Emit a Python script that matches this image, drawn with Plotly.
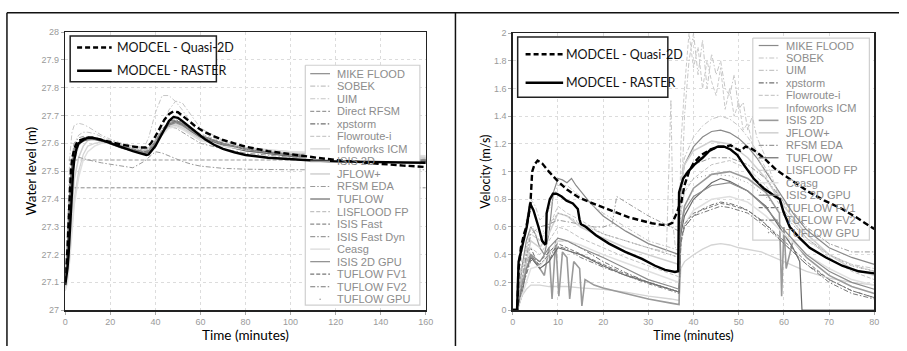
import plotly.graph_objects as go

W, H = 907, 351

# ================= LEFT PANEL: water level (m) =================
T_L = [0, 1, 2, 3, 4, 6, 8, 10, 13, 16, 20, 25, 30, 35, 37, 40, 43, 46, 49, 52, 56, 60, 70, 80, 100, 120, 140, 160]

L_MIKE = [27.1, 27.2, 27.38, 27.5, 27.56, 27.6, 27.61, 27.615, 27.615, 27.61, 27.6, 27.585, 27.575, 27.565, 27.57, 27.6, 27.64, 27.67, 27.68, 27.67, 27.645, 27.625, 27.595, 27.575, 27.555, 27.545, 27.54, 27.535]
L_SOBEK = [27.1, 27.25, 27.45, 27.55, 27.6, 27.63, 27.64, 27.64, 27.635, 27.625, 27.61, 27.6, 27.59, 27.58, 27.585, 27.615, 27.66, 27.72, 27.752, 27.745, 27.7, 27.655, 27.61, 27.585, 27.565, 27.55, 27.545, 27.54]
L_UIM = [27.12, 27.3, 27.55, 27.64, 27.665, 27.672, 27.668, 27.66, 27.645, 27.63, 27.615, 27.6, 27.59, 27.585, 27.62, 27.71, 27.772, 27.772, 27.75, 27.72, 27.67, 27.63, 27.59, 27.572, 27.558, 27.55, 27.545, 27.54]
L_DRFSM_T = [1.5, 160]
L_DRFSM = [27.54, 27.54]
L_XP = [27.1, 27.22, 27.42, 27.53, 27.58, 27.61, 27.62, 27.62, 27.615, 27.61, 27.6, 27.59, 27.58, 27.57, 27.575, 27.61, 27.65, 27.68, 27.685, 27.675, 27.65, 27.63, 27.6, 27.58, 27.56, 27.55, 27.545, 27.54]
L_FLOW = [27.08, 27.15, 27.3, 27.45, 27.53, 27.59, 27.61, 27.615, 27.615, 27.61, 27.6, 27.59, 27.58, 27.57, 27.575, 27.6, 27.635, 27.665, 27.67, 27.66, 27.64, 27.62, 27.595, 27.58, 27.565, 27.555, 27.55, 27.545]
L_INFO = [27.07, 27.12, 27.2, 27.3, 27.4, 27.5, 27.56, 27.59, 27.6, 27.605, 27.6, 27.59, 27.58, 27.57, 27.575, 27.6, 27.64, 27.665, 27.67, 27.66, 27.64, 27.62, 27.6, 27.585, 27.57, 27.56, 27.555, 27.55]
L_ISIS = [27.1, 27.2, 27.4, 27.52, 27.57, 27.6, 27.615, 27.62, 27.62, 27.61, 27.6, 27.585, 27.575, 27.565, 27.57, 27.6, 27.635, 27.665, 27.675, 27.665, 27.645, 27.625, 27.6, 27.58, 27.56, 27.55, 27.545, 27.54]
L_JFLOW = [27.08, 27.14, 27.25, 27.37, 27.47, 27.55, 27.59, 27.61, 27.62, 27.615, 27.605, 27.59, 27.58, 27.57, 27.575, 27.6, 27.63, 27.66, 27.665, 27.655, 27.635, 27.615, 27.59, 27.575, 27.565, 27.56, 27.555, 27.55]
L_RFSM_T = [2, 3, 4, 6, 8, 10, 13, 16, 20, 25, 30, 35, 37, 40, 43, 46, 49, 52, 56, 60, 70, 80, 100, 120, 140, 160]
L_RFSM = [27.3, 27.5, 27.55, 27.55, 27.545, 27.54, 27.535, 27.53, 27.525, 27.518, 27.512, 27.535, 27.55, 27.57, 27.565, 27.555, 27.545, 27.535, 27.525, 27.518, 27.51, 27.507, 27.505, 27.505, 27.505, 27.505]
L_TUF = [27.1, 27.19, 27.39, 27.51, 27.565, 27.598, 27.608, 27.613, 27.613, 27.608, 27.598, 27.583, 27.573, 27.563, 27.568, 27.598, 27.637, 27.668, 27.677, 27.667, 27.643, 27.622, 27.593, 27.573, 27.553, 27.543, 27.538, 27.534]
L_LIS = [27.1, 27.18, 27.35, 27.48, 27.55, 27.6, 27.62, 27.625, 27.62, 27.615, 27.605, 27.595, 27.585, 27.575, 27.58, 27.61, 27.645, 27.68, 27.69, 27.68, 27.655, 27.635, 27.605, 27.585, 27.565, 27.555, 27.55, 27.545]
L_IFAST_T = [1.5, 160]
L_IFAST = [27.44, 27.44]
L_IFDYN = [27.1, 27.25, 27.45, 27.55, 27.6, 27.62, 27.625, 27.62, 27.615, 27.61, 27.6, 27.59, 27.58, 27.575, 27.58, 27.61, 27.645, 27.66, 27.655, 27.64, 27.62, 27.6, 27.58, 27.565, 27.55, 27.545, 27.54, 27.54]
L_CEASG = [27.07, 27.1, 27.18, 27.28, 27.38, 27.48, 27.54, 27.57, 27.59, 27.6, 27.6, 27.59, 27.58, 27.57, 27.575, 27.6, 27.63, 27.655, 27.66, 27.65, 27.63, 27.61, 27.59, 27.578, 27.57, 27.565, 27.56, 27.555]
L_GPU2D = [27.1, 27.2, 27.4, 27.52, 27.57, 27.6, 27.612, 27.618, 27.618, 27.61, 27.6, 27.587, 27.577, 27.567, 27.572, 27.6, 27.638, 27.668, 27.676, 27.666, 27.645, 27.625, 27.598, 27.578, 27.558, 27.548, 27.542, 27.538]
L_FV1 = [27.1, 27.22, 27.43, 27.54, 27.58, 27.605, 27.615, 27.62, 27.618, 27.612, 27.602, 27.59, 27.58, 27.57, 27.575, 27.605, 27.645, 27.675, 27.683, 27.673, 27.65, 27.63, 27.6, 27.58, 27.56, 27.55, 27.545, 27.54]
L_FV2 = [27.1, 27.22, 27.42, 27.53, 27.575, 27.6, 27.612, 27.617, 27.616, 27.61, 27.6, 27.588, 27.578, 27.568, 27.573, 27.602, 27.642, 27.672, 27.68, 27.67, 27.648, 27.628, 27.598, 27.578, 27.558, 27.548, 27.543, 27.538]
L_TGPU = [27.1, 27.21, 27.41, 27.53, 27.575, 27.603, 27.613, 27.618, 27.617, 27.611, 27.601, 27.589, 27.579, 27.569, 27.574, 27.603, 27.643, 27.673, 27.681, 27.671, 27.649, 27.629, 27.599, 27.579, 27.559, 27.549, 27.544, 27.539]

L_Q2D_T = [0, 0.5, 1, 1.5, 2, 2.5, 3, 4, 5, 6, 8, 10, 12, 15, 20, 25, 30, 33, 36, 38, 40, 42, 44, 46, 48, 50, 52, 55, 58, 62, 66, 70, 75, 80, 90, 100, 110, 120, 130, 140, 150, 160]
L_Q2D = [27.1, 27.15, 27.22, 27.32, 27.42, 27.5, 27.54, 27.58, 27.6, 27.61, 27.615, 27.62, 27.62, 27.615, 27.605, 27.595, 27.59, 27.585, 27.585, 27.6, 27.625, 27.655, 27.685, 27.705, 27.715, 27.712, 27.7, 27.68, 27.66, 27.64, 27.625, 27.612, 27.6, 27.588, 27.572, 27.56, 27.55, 27.54, 27.532, 27.526, 27.52, 27.515]
L_RAS_T = [0, 0.5, 1, 1.5, 2, 2.5, 3, 3.5, 4, 5, 6, 8, 10, 12, 15, 20, 25, 30, 33, 36, 37, 38, 40, 42, 44, 46, 48, 50, 52, 55, 58, 62, 66, 70, 75, 80, 90, 100, 110, 120, 130, 140, 150, 160]
L_RAS = [27.09, 27.12, 27.15, 27.2, 27.28, 27.36, 27.44, 27.5, 27.54, 27.58, 27.6, 27.612, 27.62, 27.62, 27.615, 27.6, 27.585, 27.572, 27.565, 27.558, 27.56, 27.57, 27.59, 27.62, 27.65, 27.68, 27.695, 27.692, 27.68, 27.66, 27.64, 27.615, 27.595, 27.58, 27.568, 27.558, 27.548, 27.542, 27.538, 27.535, 27.533, 27.532, 27.531, 27.53]

# ================= RIGHT PANEL: velocity (m/s) =================
R_STD_T = [0, 1, 2, 4, 6, 8, 10, 12, 15, 20, 25, 30, 35, 36.8, 37.2, 38, 40, 44, 48, 52, 56, 60, 65, 70, 75, 80]

R_MIKE_T = [0, 1, 2, 3, 4, 5, 6, 7, 8, 9, 10, 11, 12, 13, 14, 15, 17, 20, 25, 30, 35, 36.8, 37.2, 38, 40, 42, 44, 46, 48, 50, 52, 54, 56, 58, 60, 62, 65, 70, 75, 80]
R_MIKE = [0, 0, 0.3, 0.5, 0.6, 0.55, 0.45, 0.4, 0.55, 0.85, 0.95, 0.94, 0.92, 0.95, 0.9, 0.86, 0.78, 0.68, 0.57, 0.48, 0.42, 0.4, 0.9, 1.05, 1.18, 1.25, 1.29, 1.3, 1.28, 1.24, 1.18, 1.1, 1.0, 0.9, 0.8, 0.7, 0.58, 0.45, 0.38, 0.33]
R_SOBEK_T = [0, 1, 2, 3, 4, 5, 6, 8, 10, 12, 15, 20, 25, 30, 35, 36.8, 37.2, 38, 40, 42, 44, 46, 48, 50, 52, 54, 56, 58, 60, 62, 65, 70, 75, 80]
R_SOBEK = [0, 0, 0.4, 0.65, 0.8, 0.75, 0.65, 0.72, 0.9, 0.9, 0.82, 0.7, 0.6, 0.5, 0.45, 0.43, 0.95, 1.1, 1.25, 1.33, 1.38, 1.4, 1.38, 1.33, 1.25, 1.15, 1.02, 0.9, 0.78, 0.65, 0.52, 0.4, 0.32, 0.28]
R_UIM_T = [0, 1, 2, 4, 6, 8, 10, 12, 15, 20, 25, 30, 34, 35, 35.5, 36, 37, 38, 39, 40, 41, 42, 43, 44, 45, 46, 47, 48, 49, 50, 51, 52, 53, 54, 56, 58, 60, 65, 70, 75, 80]
R_UIM = [0, 0, 0.3, 0.55, 0.5, 0.62, 0.7, 0.68, 0.62, 0.55, 0.5, 0.45, 0.42, 1.52, 0.6, 0.45, 0.5, 1.4, 1.8, 2.0, 1.7, 1.95, 1.6, 1.85, 1.7, 1.8, 1.6, 1.55, 1.7, 1.45, 1.5, 1.3, 1.4, 1.25, 1.1, 0.9, 0.7, 0.5, 0.4, 0.33, 0.3]
R_XP_T = [0, 1, 2, 3, 4, 5, 6, 8, 10, 12, 15, 20, 25, 30, 35, 36.8, 37.2, 38, 40, 42, 44, 46, 48, 50, 52, 55, 58, 60, 62, 65, 70, 75, 80]
R_XP = [0, 0, 0.2, 0.4, 0.45, 0.38, 0.3, 0.35, 0.5, 0.5, 0.45, 0.35, 0.27, 0.2, 0.15, 0.13, 0.5, 0.6, 0.68, 0.73, 0.76, 0.78, 0.77, 0.75, 0.72, 0.65, 0.55, 0.48, 0.42, 0.33, 0.22, 0.14, 0.09]
R_FLOW_T = [0, 1, 2, 4, 6, 8, 10, 12, 15, 20, 25, 30, 35, 36.8, 37.2, 38, 39, 40, 41, 42, 43, 44, 45, 46, 47, 48, 49, 50, 51, 52, 53, 55, 57, 60, 65, 70, 75, 80]
R_FLOW = [0, 0, 0.25, 0.6, 0.5, 0.6, 0.75, 0.7, 0.65, 0.55, 0.5, 0.45, 0.4, 0.38, 1.2, 1.6, 2.0, 1.75, 1.9, 1.6, 1.8, 1.65, 1.55, 1.75, 1.45, 1.6, 1.4, 1.5, 1.3, 1.35, 1.2, 1.05, 0.9, 0.72, 0.52, 0.4, 0.33, 0.28]
R_INFO_T = [0, 1, 2, 3, 4, 6, 8, 10, 12, 15, 20, 25, 30, 35, 36.8, 37.2, 38, 40, 42, 44, 46, 48, 50, 55, 60, 65, 70, 75, 80]
R_INFO = [0, 0, 0.1, 0.15, 0.18, 0.18, 0.17, 0.17, 0.17, 0.16, 0.15, 0.13, 0.1, 0.08, 0.07, 0.3, 0.35, 0.4, 0.44, 0.47, 0.48, 0.47, 0.45, 0.42, 0.35, 0.28, 0.23, 0.2, 0.18]
R_ISIS_T = [0, 1, 2, 3, 4, 5, 6, 7, 8, 8.7, 9.5, 10.2, 11, 12, 12.6, 13.5, 14.8, 15.3, 16, 18, 20, 25, 30, 35, 36.8, 37.2, 38, 40, 44, 48, 52, 56, 58, 59, 59.5, 60, 60.5, 62, 65, 70, 75, 80]
R_ISIS = [0, 0, 0.2, 0.35, 0.4, 0.35, 0.3, 0.25, 0.45, 0.08, 0.5, 0.1, 0.42, 0.38, 0.08, 0.35, 0.3, 0.03, 0.22, 0.18, 0.16, 0.12, 0.08, 0.05, 0.04, 0.6, 0.75, 0.88, 0.98, 1.0, 0.95, 0.85, 0.75, 0.7, 0.1, 0.6, 0.3, 0.5, 0.38, 0.25, 0.17, 0.12]
R_JFLOW = [0, 0, 0.2, 0.5, 0.45, 0.55, 0.7, 0.68, 0.6, 0.52, 0.45, 0.4, 0.35, 0.33, 0.9, 1.05, 1.15, 1.22, 1.2, 1.1, 0.95, 0.75, 0.55, 0.4, 0.3, 0.25]
R_RFSM_T = [0, 1, 2, 4, 6, 8, 10, 12, 15, 18, 20, 22, 23, 24, 25, 28, 30, 35, 36.8, 37.2, 38, 40, 44, 48, 52, 56, 60, 65, 70, 75, 80]
R_RFSM = [0, 0, 0.2, 0.55, 0.6, 0.62, 0.65, 0.64, 0.62, 0.6, 0.6, 0.62, 0.82, 0.8, 0.78, 0.72, 0.68, 0.6, 0.57, 0.85, 0.98, 1.05, 1.1, 1.1, 1.05, 0.95, 0.78, 0.6, 0.48, 0.42, 0.42]
R_TUF_T = [0, 1, 2, 3, 4, 6, 8, 10, 12, 15, 20, 25, 30, 35, 36.8, 37.2, 38, 40, 44, 46, 48, 52, 56, 60, 62, 63.5, 64, 65, 70, 75, 80]
R_TUF = [0, 0, 0.1, 0.3, 0.38, 0.3, 0.35, 0.45, 0.43, 0.4, 0.32, 0.25, 0.2, 0.15, 0.13, 0.55, 0.68, 0.8, 0.92, 0.95, 0.93, 0.86, 0.75, 0.55, 0.45, 0.35, 0.0, 0.0, 0.0, 0.0, 0.0]
R_LIS = [0, 0, 0.15, 0.45, 0.4, 0.5, 0.6, 0.58, 0.52, 0.45, 0.38, 0.32, 0.26, 0.24, 0.7, 0.85, 0.95, 1.05, 1.08, 1.02, 0.9, 0.72, 0.52, 0.38, 0.28, 0.22]
R_CEASG = [0, 0, 0.1, 0.3, 0.32, 0.4, 0.5, 0.5, 0.47, 0.4, 0.34, 0.28, 0.22, 0.2, 0.5, 0.62, 0.72, 0.8, 0.82, 0.78, 0.68, 0.55, 0.4, 0.3, 0.22, 0.18]
R_GPU2D = [0, 0, 0.18, 0.4, 0.35, 0.45, 0.52, 0.5, 0.45, 0.38, 0.3, 0.22, 0.17, 0.15, 0.6, 0.72, 0.82, 0.9, 0.92, 0.86, 0.74, 0.58, 0.4, 0.28, 0.2, 0.15]
R_FV_T = [0, 1, 2, 4, 6, 8, 10, 12, 15, 20, 25, 30, 35, 36.8, 37.2, 38, 40, 44, 46, 48, 52, 56, 60, 65, 70, 75, 80]
R_FV1 = [0, 0, 0.15, 0.38, 0.35, 0.42, 0.48, 0.45, 0.4, 0.33, 0.26, 0.2, 0.15, 0.13, 0.5, 0.62, 0.7, 0.75, 0.77, 0.76, 0.72, 0.62, 0.5, 0.35, 0.22, 0.14, 0.09]
R_FV2 = [0, 0, 0.15, 0.36, 0.33, 0.4, 0.46, 0.44, 0.38, 0.31, 0.25, 0.19, 0.14, 0.12, 0.48, 0.6, 0.68, 0.73, 0.75, 0.74, 0.7, 0.6, 0.48, 0.33, 0.2, 0.12, 0.08]
R_TGPU = [0, 0, 0.3, 0.6, 0.55, 0.6, 0.7, 0.68, 0.63, 0.55, 0.5, 0.45, 0.4, 0.38, 0.75, 0.88, 0.95, 0.98, 0.97, 0.92, 0.82, 0.68, 0.52, 0.4, 0.32, 0.28]

R_Q2D_T = [0, 1, 1.3, 1.8, 2.5, 3, 3.5, 3.9, 4.3, 4.8, 5.5, 6.5, 8, 9.7, 12, 14.8, 17, 19, 22, 25.7, 28, 30.8, 33, 34.5, 35.3, 35.8, 36.3, 36.8, 37.3, 38, 39, 40, 41.7, 43.8, 45.5, 46.8, 48.2, 49.7, 50.4, 51.5, 52.6, 54, 55.5, 58.4, 62, 65.7, 69, 72.9, 76, 80]
R_Q2D = [0, 0, 0.3, 0.45, 0.55, 0.6, 0.68, 0.76, 1.0, 1.05, 1.08, 1.06, 1.0, 0.94, 0.87, 0.81, 0.78, 0.755, 0.72, 0.67, 0.65, 0.627, 0.615, 0.617, 0.63, 0.66, 0.7, 0.75, 0.78, 0.9, 1.0, 1.06, 1.12, 1.16, 1.18, 1.18, 1.19, 1.16, 1.15, 1.18, 1.17, 1.14, 1.1, 1.01, 0.93, 0.85, 0.79, 0.73, 0.67, 0.585]
R_RAS_T = [0, 0.95, 1.3, 2.4, 3.1, 3.85, 4.6, 5.7, 6.5, 7.1, 7.35, 7.5, 8.2, 8.9, 9.7, 10.8, 11.9, 13.3, 14.4, 14.8, 15.1, 16.2, 18.4, 21.3, 24.9, 28.6, 31.5, 33.7, 35.9, 36.6, 36.8, 37.7, 38.8, 40.2, 42, 43.5, 45.3, 46.8, 48.2, 49.7, 51.1, 53.3, 55.5, 57.7, 59.1, 59.9, 61.3, 63.5, 65.7, 69.3, 72.9, 76.5, 80]
R_RAS = [0, 0, 0.35, 0.5, 0.6, 0.77, 0.72, 0.6, 0.5, 0.475, 0.48, 0.7, 0.8, 0.84, 0.84, 0.82, 0.79, 0.77, 0.73, 0.65, 0.62, 0.6, 0.54, 0.48, 0.42, 0.37, 0.32, 0.29, 0.275, 0.28, 0.85, 0.95, 1.0, 1.05, 1.1, 1.15, 1.18, 1.18, 1.16, 1.12, 1.05, 0.95, 0.88, 0.83, 0.8, 0.71, 0.6, 0.52, 0.45, 0.38, 0.32, 0.28, 0.265]

# ================= legend names / styles =================
L_NAMES = ["MIKE FLOOD", "SOBEK", "UIM", "Direct RFSM", "xpstorm", "Flowroute-i", "Infoworks ICM", "ISIS 2D",
           "JFLOW+", "RFSM EDA", "TUFLOW", "LISFLOOD FP", "ISIS Fast", "ISIS Fast Dyn", "Ceasg", "ISIS 2D GPU",
           "TUFLOW FV1", "TUFLOW FV2", "TUFLOW GPU"]
R_NAMES = ["MIKE FLOOD", "SOBEK", "UIM", "xpstorm", "Flowroute-i", "Infoworks ICM", "ISIS 2D", "JFLOW+",
           "RFSM EDA", "TUFLOW", "LISFLOOD FP", "Ceasg", "ISIS 2D GPU", "TUFLOW FV1", "TUFLOW FV2", "TUFLOW GPU"]
Q2D_NAME = "MODCEL - Quasi-2D"
RAS_NAME = "MODCEL - RASTER"

DASHES = {"solid": "solid", "dash": "4px,2px", "dashdot": "5px,2px,1.5px,2px", "dot": "1px,3px"}
STY = {
    "MIKE FLOOD": ("#8a8a8a", "solid", 1.2),
    "SOBEK": ("#c4c4c4", "dashdot", 1.0),
    "UIM": ("#c6c6c6", "dashdot", 1.0),
    "Direct RFSM": ("#9a9a9a", "dash", 1.0),
    "xpstorm": ("#707070", "dashdot", 1.0),
    "Flowroute-i": ("#cacaca", "dash", 1.0),
    "Infoworks ICM": ("#d4d4d4", "solid", 1.3),
    "ISIS 2D": ("#9a9a9a", "solid", 1.6),
    "JFLOW+": ("#d0d0d0", "solid", 1.5),
    "RFSM EDA": ("#9a9a9a", "dashdot", 1.0),
    "TUFLOW": ("#6a6a6a", "solid", 1.2),
    "LISFLOOD FP": ("#c2c2c2", "dash", 1.0),
    "ISIS Fast": ("#8c8c8c", "dash", 1.0),
    "ISIS Fast Dyn": ("#9a9a9a", "dashdot", 1.0),
    "Ceasg": ("#e0e0e0", "solid", 1.5),
    "ISIS 2D GPU": ("#8c8c8c", "solid", 1.2),
    "TUFLOW FV1": ("#777777", "dash", 1.0),
    "TUFLOW FV2": ("#777777", "dashdot", 1.0),
    "TUFLOW GPU": ("#9a9a9a", "dot", 1.0),
}

L_DATA = {
    "MIKE FLOOD": (T_L, L_MIKE), "SOBEK": (T_L, L_SOBEK), "UIM": (T_L, L_UIM),
    "Direct RFSM": (L_DRFSM_T, L_DRFSM), "xpstorm": (T_L, L_XP), "Flowroute-i": (T_L, L_FLOW),
    "Infoworks ICM": (T_L, L_INFO), "ISIS 2D": (T_L, L_ISIS), "JFLOW+": (T_L, L_JFLOW),
    "RFSM EDA": (L_RFSM_T, L_RFSM), "TUFLOW": (T_L, L_TUF), "LISFLOOD FP": (T_L, L_LIS),
    "ISIS Fast": (L_IFAST_T, L_IFAST), "ISIS Fast Dyn": (T_L, L_IFDYN), "Ceasg": (T_L, L_CEASG),
    "ISIS 2D GPU": (T_L, L_GPU2D), "TUFLOW FV1": (T_L, L_FV1), "TUFLOW FV2": (T_L, L_FV2),
    "TUFLOW GPU": (T_L, L_TGPU),
}
R_DATA = {
    "MIKE FLOOD": (R_MIKE_T, R_MIKE), "SOBEK": (R_SOBEK_T, R_SOBEK), "UIM": (R_UIM_T, R_UIM),
    "xpstorm": (R_XP_T, R_XP), "Flowroute-i": (R_FLOW_T, R_FLOW), "Infoworks ICM": (R_INFO_T, R_INFO),
    "ISIS 2D": (R_ISIS_T, R_ISIS), "JFLOW+": (R_STD_T, R_JFLOW), "RFSM EDA": (R_RFSM_T, R_RFSM),
    "TUFLOW": (R_TUF_T, R_TUF), "LISFLOOD FP": (R_STD_T, R_LIS), "Ceasg": (R_STD_T, R_CEASG),
    "ISIS 2D GPU": (R_STD_T, R_GPU2D), "TUFLOW FV1": (R_FV_T, R_FV1), "TUFLOW FV2": (R_FV_T, R_FV2),
    "TUFLOW GPU": (R_STD_T, R_TGPU),
}

# ================= layout geometry (pixels) =================
LP = dict(x0=63, x1=428, y0=28, y1=314)     # left plot area
RP = dict(x0=516, x1=882, y0=29, y1=314)    # right plot area
L_RANGE_X, L_RANGE_Y = [0, 160], [27, 28]
R_RANGE_X, R_RANGE_Y = [0, 80], [0, 2]


def px(x):
    return x / W


def py(y):
    return 1 - y / H


def to_data(p, rx, ry, xpix, ypix):
    xd = rx[0] + (xpix - p["x0"]) / (p["x1"] - p["x0"]) * (rx[1] - rx[0])
    yd = ry[0] + (p["y1"] - ypix) / (p["y1"] - p["y0"]) * (ry[1] - ry[0])
    return xd, yd


fig = go.Figure()


def add_series(name, t, v, xa, ya):
    c, d, w = STY[name]
    fig.add_trace(go.Scatter(x=t, y=v, mode="lines", name=name, xaxis=xa, yaxis=ya,
                             line=dict(color=c, dash=DASHES[d], width=w), showlegend=False,
                             hoverinfo="skip"))


def add_box(p, rx, ry, bx0, bx1, by0, by1, xa, ya):
    xs, ys = [], []
    for (a, b) in [(bx0, by0), (bx1, by0), (bx1, by1), (bx0, by1), (bx0, by0)]:
        xd, yd = to_data(p, rx, ry, a, b)
        xs.append(xd)
        ys.append(yd)
    fig.add_trace(go.Scatter(x=xs, y=ys, mode="lines", fill="toself", fillcolor="white",
                             line=dict(color="#cfcfcf", width=1.2), xaxis=xa, yaxis=ya,
                             showlegend=False, hoverinfo="skip"))


# ---- left panel traces ----
for n in L_NAMES:
    t, v = L_DATA[n]
    add_series(n, t, v, "x", "y")
add_box(LP, L_RANGE_X, L_RANGE_Y, 306, 422, 62, 309, "x", "y")
fig.add_trace(go.Scatter(x=L_Q2D_T, y=L_Q2D, mode="lines", name=Q2D_NAME, xaxis="x", yaxis="y",
                         line=dict(color="black", width=2.4, dash="6px,3px"), showlegend=False, hoverinfo="skip"))
fig.add_trace(go.Scatter(x=L_RAS_T, y=L_RAS, mode="lines", name=RAS_NAME, xaxis="x", yaxis="y",
                         line=dict(color="black", width=2.4), showlegend=False, hoverinfo="skip"))

# ---- right panel traces ----
add_box(RP, R_RANGE_X, R_RANGE_Y, 759, 877, 34, 242, "x2", "y2")
for n in R_NAMES:
    t, v = R_DATA[n]
    add_series(n, t, v, "x2", "y2")
fig.add_trace(go.Scatter(x=R_Q2D_T, y=R_Q2D, mode="lines", name=Q2D_NAME, xaxis="x2", yaxis="y2",
                         line=dict(color="black", width=2.4, dash="6px,3px"), showlegend=False, hoverinfo="skip"))
fig.add_trace(go.Scatter(x=R_RAS_T, y=R_RAS, mode="lines", name=RAS_NAME, xaxis="x2", yaxis="y2",
                         line=dict(color="black", width=2.4), showlegend=False, hoverinfo="skip"))

shapes, annos = [], []

# ---- custom gray legends ----
def gray_legend(names, y_first, step, sx0, sx1, tx):
    for i, n in enumerate(names):
        c, d, w = STY[n]
        yy = y_first + step * i
        if d == "dot":
            shapes.append(dict(type="circle", xref="paper", yref="paper",
                               x0=px((sx0 + sx1) / 2 - 0.8), x1=px((sx0 + sx1) / 2 + 0.8),
                               y0=py(yy + 0.8), y1=py(yy - 0.8), fillcolor=c, line=dict(width=0)))
        else:
            shapes.append(dict(type="line", xref="paper", yref="paper", x0=px(sx0), x1=px(sx1),
                               y0=py(yy), y1=py(yy), line=dict(color=c, width=max(w, 1.2), dash=DASHES[d])))
        annos.append(dict(text=n, xref="paper", yref="paper", x=px(tx), y=py(yy), xanchor="left",
                          yanchor="middle", showarrow=False,
                          font=dict(family="Liberation Sans, Arial", size=11, color="#8c8c8c")))


gray_legend(L_NAMES, 70.7, 12.9, 311, 331, 336)
gray_legend(R_NAMES, 41.7, 12.84, 765, 785, 791)


# ---- MODCEL legend boxes ----
def modcel_legend(bx0, bx1, by0, by1, sx0, sx1, y1, y2, tx):
    shapes.append(dict(type="rect", xref="paper", yref="paper", x0=px(bx0), x1=px(bx1), y0=py(by1), y1=py(by0),
                       fillcolor="white", line=dict(color="#222", width=1.5)))
    shapes.append(dict(type="line", xref="paper", yref="paper", x0=px(sx0), x1=px(sx1), y0=py(y1), y1=py(y1),
                       line=dict(color="black", width=2.4, dash="5px,3px")))
    shapes.append(dict(type="line", xref="paper", yref="paper", x0=px(sx0), x1=px(sx1), y0=py(y2), y1=py(y2),
                       line=dict(color="black", width=2.4)))
    for txt, yy in [(Q2D_NAME, y1), (RAS_NAME, y2)]:
        annos.append(dict(text=txt, xref="paper", yref="paper", x=px(tx), y=py(yy), xanchor="left",
                          yanchor="middle", showarrow=False,
                          font=dict(family="Lato, Open Sans, sans-serif", size=12.5, color="#111")))


modcel_legend(68, 216, 32, 79, 75, 110, 43.7, 67.7, 113)
modcel_legend(521, 673, 33, 95, 529, 567, 50.7, 80, 568)

# ---- outer frame lines ----
for (a, b, c, d) in [(4, 8, W, 8), (4, 8, 4, H), (458, 8, 458, H)]:
    shapes.append(dict(type="line", xref="paper", yref="paper", x0=px(a), x1=px(c), y0=py(b), y1=py(d),
                       line=dict(color="#111", width=1.5)))

tick_font = dict(family="Liberation Sans, Arial", size=9, color="#9a9a9a")
axis_common = dict(showgrid=True, gridcolor="#dcdcdc", griddash="dot", gridwidth=1, zeroline=False,
                   showline=True, mirror=True, linecolor="#222", linewidth=1.5, ticks="outside",
                   ticklen=3, tickcolor="#aaaaaa", tickfont=tick_font)

fig.update_layout(
    width=W, height=H, margin=dict(l=0, r=0, t=0, b=0),
    paper_bgcolor="white", plot_bgcolor="white", showlegend=False,
    xaxis=dict(domain=[px(LP["x0"]), px(LP["x1"])], range=L_RANGE_X, tick0=0, dtick=20, anchor="y",
               title=dict(text="Time (minutes)", standoff=4, font=dict(family="Lato, sans-serif", size=13.5, color="black")),
               **axis_common),
    yaxis=dict(domain=[py(LP["y1"]), py(LP["y0"])], range=L_RANGE_Y, tick0=27, dtick=0.1, anchor="x",
               title=dict(text="Water level (m)", standoff=1, font=dict(family="Lato, sans-serif", size=13.5, color="black")),
               **axis_common),
    xaxis2=dict(domain=[px(RP["x0"]), px(RP["x1"])], range=R_RANGE_X, tick0=0, dtick=10, anchor="y2",
                title=dict(text="Time (minutes)", standoff=5, font=dict(family="Lato, sans-serif", size=12.5, color="black")),
                **axis_common),
    yaxis2=dict(domain=[py(RP["y1"]), py(RP["y0"])], range=R_RANGE_Y, tick0=0, dtick=0.2, anchor="x2",
                title=dict(text="Velocity (m/s)", standoff=0, font=dict(family="Lato, sans-serif", size=12.5, color="black")),
                **axis_common),
    shapes=shapes, annotations=annos,
)

fig.write_html("out.html", config={"displayModeBar": False, "staticPlot": True},
               post_script="document.body.style.margin='0';document.body.style.overflow='hidden';")
